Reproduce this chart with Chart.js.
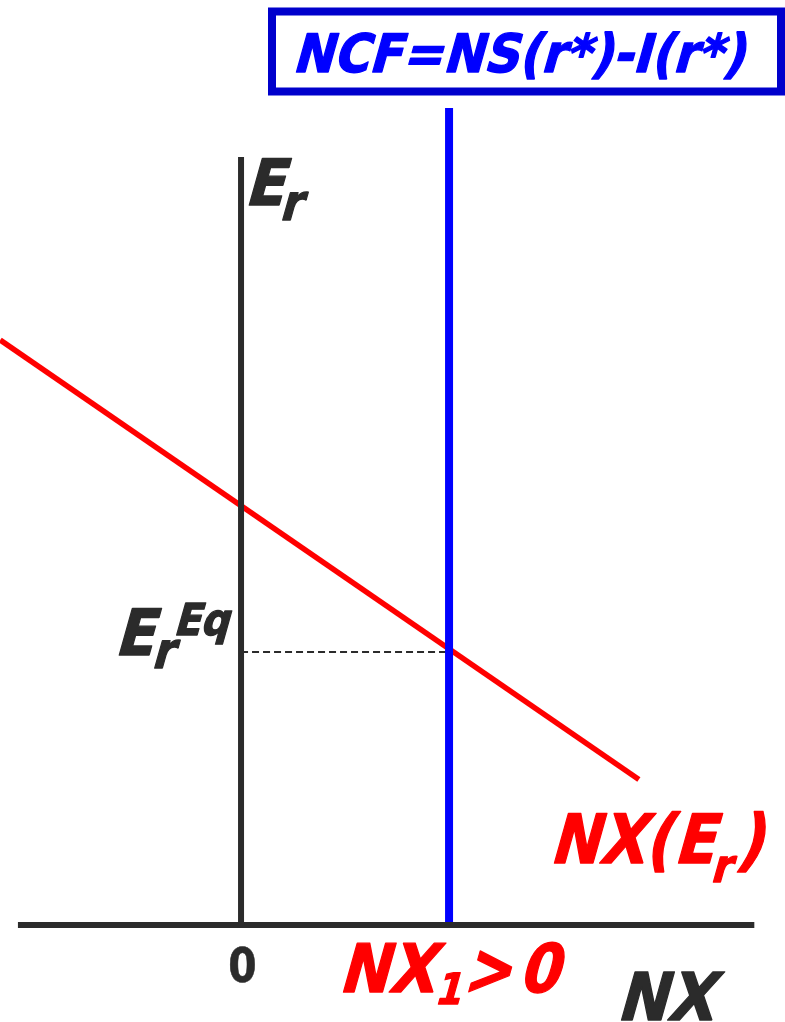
<!DOCTYPE html>
<html><head><meta charset="utf-8">
<script src="https://cdn.jsdelivr.net/npm/chart.js@4"></script>
<style>html,body{margin:0;padding:0;background:#fff;overflow:hidden}canvas{display:block}</style>
</head><body>
<canvas id="c" width="785" height="1022"></canvas>
<script>
// ---- data (conceptual units) ----
const nxCurveX = [-4.63, 7.65];   // NX(Er) schedule endpoints
const nxCurveE = [11.25, 2.80];
const ncfX = [4, 4];              // NCF vertical line at NX1
const ncfE = [0, 15.71];
const eqX = [0, 4];               // equilibrium dashed guide
const eqE = [5.25, 5.25];
const yAxisX = [0, 0];
const yAxisE = [0, 14.77];
const xAxisX = [-4.29, 9.87];
const xAxisE = [0, 0];
const tickLabels = ['0'];
const titleText = 'NCF=NS(r*)-I(r*)';
const axisLabelY = ['E', 'r'];
const eqLabel = ['E', 'r', 'Eq'];
const nx1Label = ['NX', '1', '>', '0'];
const axisLabelX = 'NX';
const curveLabel = ['NX(', 'E', 'r', ')'];

const AX = '#2b2b2b', RED = '#ff0000', BLUE = '#0000ff';
const pts = (xs, ys) => xs.map((x, i) => ({x, y: ys[i]}));

function txt(ctx, s, x, y, size, color, o) {
  o = o || {};
  ctx.save();
  ctx.font = 'bold ' + size + 'px "DejaVu Sans"';
  ctx.fillStyle = color;
  ctx.strokeStyle = color;
  ctx.lineWidth = o.upright ? 0.6 : 1.4;
  ctx.lineJoin = 'round';
  ctx.textBaseline = 'alphabetic';
  ctx.textAlign = o.align || 'left';
  let sx = o.sx || 1;
  if (o.w) sx = o.w / ctx.measureText(s).width;
  const k = o.upright ? 0 : 0.28;
  ctx.translate(x, y);
  ctx.transform(sx, 0, -k, 1, 0, 0);
  ctx.fillText(s, 0, 0);
  ctx.strokeText(s, 0, 0);
  ctx.restore();
}

const labelsPlugin = {
  id: 'labels',
  afterDatasetsDraw(chart) {
    const ctx = chart.ctx;
    const X = v => chart.scales.x.getPixelForValue(v);
    const Y = v => chart.scales.y.getPixelForValue(v);
    const ox = X(0), oy = Y(0);
    // title box
    ctx.save();
    ctx.strokeStyle = '#0000cc';
    ctx.lineWidth = 8;
    ctx.strokeRect(272, 11.5, 509, 80);
    ctx.restore();
    txt(ctx, titleText, 292, 72, 53, BLUE, {w: 452});
    // vertical axis label
    const yTop = Y(yAxisE[1]);
    txt(ctx, axisLabelY[0], ox + 3, yTop + 48, 64, AX, {sx: 0.9});
    txt(ctx, axisLabelY[1], ox + 38, yTop + 63, 50, AX, {sx: 0.88});
    // equilibrium label
    const ye = Y(eqE[0]);
    txt(ctx, eqLabel[0], ox - 127, ye + 3, 64, AX, {sx: 0.9});
    txt(ctx, eqLabel[1], ox - 90, ye + 16, 50, AX, {sx: 0.88});
    txt(ctx, eqLabel[2], ox - 68, ye - 17, 44, AX, {sx: 0.9});
    // tick label 0
    txt(ctx, tickLabels[0], ox + 1.5, oy + 57, 48, AX, {upright: true, align: 'center', sx: 0.85});
    // NX1>0
    const xn = X(ncfX[0]);
    txt(ctx, nx1Label[0], xn - 111, oy + 67, 67, RED, {w: 96});
    txt(ctx, nx1Label[1], xn - 15, oy + 79, 43, RED, {sx: 0.88});
    txt(ctx, nx1Label[2], xn + 13, oy + 69, 72, RED, {sx: 0.8});
    txt(ctx, nx1Label[3], xn + 69, oy + 67, 67, RED, {sx: 0.86});
    // NX axis label
    txt(ctx, axisLabelX, 616, oy + 95, 66, AX, {w: 97});
    // curve label
    txt(ctx, curveLabel[0], 549, 863, 68, RED, {w: 122});
    txt(ctx, curveLabel[1], 673, 863, 68, RED, {sx: 0.88});
    txt(ctx, curveLabel[2], 710, 882, 46, RED, {sx: 0.88});
    txt(ctx, curveLabel[3], 735, 863, 68, RED, {sx: 0.88});
  }
};

const line = (data, color, width, order, extra) => Object.assign({
  data, borderColor: color, borderWidth: width, showLine: true, pointRadius: 0,
  borderCapStyle: 'butt', fill: false, tension: 0, order
}, extra || {});

new Chart(document.getElementById('c'), {
  type: 'scatter',
  data: {
    datasets: [
      line(pts(yAxisX, yAxisE), AX, 6, 1),
      line(pts(xAxisX, xAxisE), AX, 6, 1),
      line(pts(ncfX, ncfE), BLUE, 8, 2),
      line(pts(nxCurveX, nxCurveE), RED, 5.5, 3),
      line(pts(eqX, eqE), AX, 2, 4, {borderDash: [7, 4]})
    ]
  },
  options: {
    responsive: false,
    devicePixelRatio: 1,
    animation: false,
    layout: {padding: 0},
    plugins: {legend: {display: false}, tooltip: {enabled: false}},
    scales: {
      x: {type: 'linear', min: -4.635, max: 10.46, display: false},
      y: {type: 'linear', min: -1.865, max: 17.788, display: false}
    }
  },
  plugins: [labelsPlugin]
});
</script>
</body></html>
